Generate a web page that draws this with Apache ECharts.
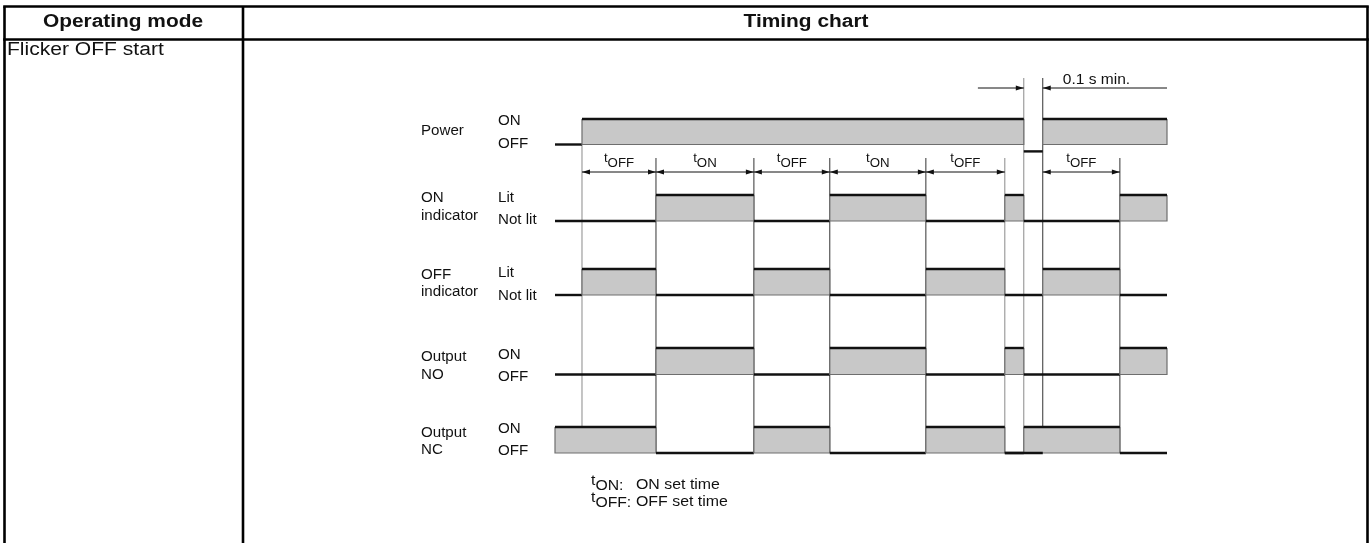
<!DOCTYPE html>
<html>
<head>
<meta charset="utf-8">
<script src="https://cdn.jsdelivr.net/npm/echarts@6/dist/echarts.min.js"></script>
<style>
  html, body { margin: 0; padding: 0; background: #fff; }
  #chart { width: 1372px; height: 543px; }
</style>
</head>
<body>
<div id="chart"></div>
<script>
// time marks along the chart (0 = left end, 100 = right end)
var edges = [0, 4.41, 16.5, 32.5, 44.9, 60.6, 73.5, 76.6, 79.7, 92.3, 100];
// state in each interval between edges: 1 = ON / lit, 0 = OFF / not lit
var power        = [0, 1, 1, 1, 1, 1, 1, -0.27, 1, 1];
var onIndicator  = [0, 0, 1, 0, 1, 0, 1, 0, 0, 1];
var offIndicator = [0, 1, 0, 1, 0, 1, 0, 0, 1, 0];
var outputNO     = [0, 0, 1, 0, 1, 0, 1, 0, 0, 1];
var outputNC     = [1, 1, 0, 1, 0, 1, 0, 1, 1, 0];
var signals = [power, onIndicator, offIndicator, outputNO, outputNC];
// level of each row on the vertical scale: [high, low]
var rowLevels = [[4.9, 7.45], [12.5, 15.1], [19.9, 22.5], [27.8, 30.45], [35.7, 38.3]];
var rowNames = [['Power'], ['ON', 'indicator'], ['OFF', 'indicator'], ['Output', 'NO'], ['Output', 'NC']];
var levelNames = [['ON', 'OFF'], ['Lit', 'Not lit'], ['Lit', 'Not lit'], ['ON', 'OFF'], ['ON', 'OFF']];
// set time dimensions: [from, to, label]
var spans = [[4.41, 16.5, 'OFF'], [16.5, 32.5, 'ON'], [32.5, 44.9, 'OFF'],
             [44.9, 60.6, 'ON'], [60.6, 73.5, 'OFF'], [79.7, 92.3, 'OFF']];
var spanLevel = 10.2;
// vertical guide lines: [time, top, bottom, dark]
var guides = [[4.41, 7.45, 35.7, 0], [16.5, 8.8, 38.3, 1], [32.5, 8.8, 38.3, 1],
              [44.9, 8.8, 38.3, 1], [60.6, 8.8, 38.3, 1], [73.5, 8.8, 38.3, 0],
              [76.6, 0.8, 38.3, 0], [79.7, 0.8, 35.7, 1], [92.3, 8.8, 38.3, 1]];
// NC stays low through the power off gap
var ncOffGap = [73.5, 79.7];
// power off time dimension: [line start, off start, off end, line end]
var minOff = [69.1, 76.6, 79.7, 100];
var minOffLevel = 1.8;

var FONT = '"Liberation Sans", Arial, Helvetica, sans-serif';
var INK = '#111';

function segments(states) {
  var out = [];
  for (var i = 0; i < states.length; i++) {
    var last = out[out.length - 1];
    if (last && last[2] === states[i]) last[1] = edges[i + 1];
    else out.push([edges[i], edges[i + 1], states[i]]);
  }
  return out;
}

function waveItem(row) {
  return function (params, api) {
    var hi = rowLevels[row][0], lo = rowLevels[row][1];
    var s = api.value(2);
    var xa = api.coord([api.value(0), lo])[0];
    var xb = api.coord([api.value(1), lo])[0];
    var yHi = api.coord([0, hi])[1];
    var yLo = api.coord([0, lo])[1];
    if (s > 0) {
      return { type: 'group', children: [
        { type: 'rect', shape: { x: xa, y: yHi, width: xb - xa, height: yLo - yHi }, style: { fill: '#c8c8c8' } },
        { type: 'polyline', shape: { points: [[xa, yHi], [xa, yLo], [xb, yLo], [xb, yHi]] },
          style: { fill: null, stroke: '#6e6e6e', lineWidth: 1.2 } },
        { type: 'line', shape: { x1: xa, y1: yHi, x2: xb, y2: yHi }, style: { stroke: INK, lineWidth: 2.4 } }
      ] };
    }
    var y = api.coord([0, lo + (hi - lo) * s])[1];
    return { type: 'line', shape: { x1: xa, y1: y, x2: xb, y2: y }, style: { stroke: INK, lineWidth: 2.4 } };
  };
}

function arrowHead(x, y, dir) {
  return { type: 'polygon', shape: { points: [[x, y], [x - dir * 8, y - 2.6], [x - dir * 8, y + 2.6]] },
           style: { fill: INK } };
}

function tLabel(text, size) {
  return {
    text: '{t|t}{s|' + text + '}',
    rich: {
      t: { fontSize: size, fontFamily: FONT, fill: INK, lineHeight: size, verticalAlign: 'top' },
      s: { fontSize: size, fontFamily: FONT, fill: INK, lineHeight: size + 5, verticalAlign: 'bottom' }
    }
  };
}

var series = [];
series.push({
  type: 'custom', silent: true, z: 1,
  data: guides,
  renderItem: function (params, api) {
    var p0 = api.coord([api.value(0), api.value(1)]);
    var p1 = api.coord([api.value(0), api.value(2)]);
    return { type: 'line', shape: { x1: p0[0], y1: p0[1], x2: p1[0], y2: p1[1] },
             style: { stroke: api.value(3) ? '#333' : '#8a8a8a', lineWidth: 1 } };
  }
});
signals.forEach(function (st, i) {
  series.push({ type: 'custom', silent: true, z: 2, data: segments(st), renderItem: waveItem(i) });
});
series.push({
  type: 'custom', silent: true, z: 3,
  data: [ncOffGap],
  renderItem: function (params, api) {
    var lo = rowLevels[4][1];
    var a = api.coord([api.value(0), lo]), b = api.coord([api.value(1), lo]);
    return { type: 'line', shape: { x1: a[0], y1: a[1], x2: b[0], y2: b[1] }, style: { stroke: INK, lineWidth: 2.4 } };
  }
});
series.push({
  type: 'custom', silent: true, z: 3,
  data: spans,
  renderItem: function (params, api) {
    var a = api.coord([api.value(0), spanLevel]);
    var b = api.coord([api.value(1), spanLevel]);
    var lab = tLabel(spans[params.dataIndex][2], 12.5);
    return { type: 'group', children: [
      { type: 'line', shape: { x1: a[0], y1: a[1], x2: b[0], y2: b[1] }, style: { stroke: INK, lineWidth: 1 } },
      arrowHead(a[0], a[1], -1), arrowHead(b[0], b[1], 1),
      { type: 'text', x: (a[0] + b[0]) / 2, y: a[1] - 11, scaleX: 1.06,
        style: { text: lab.text, rich: lab.rich, align: 'center', verticalAlign: 'middle', fill: INK, fontFamily: FONT, fontSize: 12.5 } }
    ] };
  }
});
series.push({
  type: 'custom', silent: true, z: 3,
  data: [minOff],
  renderItem: function (params, api) {
    var p = [0, 1, 2, 3].map(function (k) { return api.coord([api.value(k), minOffLevel]); });
    var y = p[0][1];
    return { type: 'group', children: [
      { type: 'line', shape: { x1: p[0][0], y1: y, x2: p[1][0], y2: y }, style: { stroke: INK, lineWidth: 1 } },
      { type: 'line', shape: { x1: p[2][0], y1: y, x2: p[3][0], y2: y }, style: { stroke: INK, lineWidth: 1 } },
      arrowHead(p[1][0], y, 1), arrowHead(p[2][0], y, -1),
      { type: 'text', x: p[2][0] + 20, y: y - 8, scaleX: 1.11,
        style: { text: '0.1 s min.', align: 'left', verticalAlign: 'middle', fill: INK, fontFamily: FONT, fontSize: 14 } }
    ] };
  }
});

var graphic = [];
function hline(x1, x2, y) { graphic.push({ type: 'line', shape: { x1: x1, y1: y, x2: x2, y2: y }, style: { stroke: '#000', lineWidth: 2.6 } }); }
function vline(x, y1, y2) { graphic.push({ type: 'line', shape: { x1: x, y1: y1, x2: x, y2: y2 }, style: { stroke: '#000', lineWidth: 2.6 } }); }
function label(text, x, y, opt) {
  opt = opt || {};
  graphic.push({ type: 'text', x: x, y: y, scaleX: opt.sx || 1.08, style: { text: text, fill: INK, fontFamily: FONT,
    fontSize: opt.size || 14, fontWeight: opt.bold ? 'bold' : 'normal', align: opt.align || 'left', verticalAlign: 'middle' } });
}
// table frame
hline(3.2, 1368.8, 6.5);
hline(3.2, 1368.8, 39.5);
vline(4.5, 6.5, 543);
vline(243, 6.5, 543);
vline(1367.5, 6.5, 543);
label('Operating mode', 123, 22.5, { size: 18, bold: true, align: 'center', sx: 1.16 });
label('Timing chart', 806, 22.5, { size: 18, bold: true, align: 'center', sx: 1.16 });
label('Flicker OFF start', 7, 50, { size: 18, sx: 1.17 });

// row names and level names
var nameY = [[131], [198, 216], [275, 292], [357, 375], [433, 450]];
var levelY = [[121, 144], [198, 220], [273, 296], [355, 377], [429, 451]];
rowNames.forEach(function (names, i) {
  names.forEach(function (n, k) { label(n, 421, nameY[i][k]); });
  levelNames[i].forEach(function (n, k) { label(n, 498, levelY[i][k]); });
});

// legend of set times
var l1 = tLabel('ON:', 15), l2 = tLabel('OFF:', 15);
graphic.push({ type: 'text', x: 591, y: 483, scaleX: 1.05, style: { text: l1.text, rich: l1.rich, verticalAlign: 'middle', fill: INK, fontFamily: FONT, fontSize: 15 } });
graphic.push({ type: 'text', x: 591, y: 500, scaleX: 1.05, style: { text: l2.text, rich: l2.rich, verticalAlign: 'middle', fill: INK, fontFamily: FONT, fontSize: 15 } });
label('ON set time', 636, 485, { size: 15, sx: 1.06 });
label('OFF set time', 636, 502, { size: 15, sx: 1.06 });

var myChart = echarts.init(document.getElementById('chart'));
myChart.setOption({
  animation: false,
  grid: { left: 555, width: 612, top: 70, height: 400 },
  xAxis: { type: 'value', min: 0, max: 100, show: false },
  yAxis: { type: 'value', min: 0, max: 40, inverse: true, show: false },
  graphic: graphic,
  series: series
});
window.addEventListener('resize', function () { myChart.resize(); });
</script>
</body>
</html>
